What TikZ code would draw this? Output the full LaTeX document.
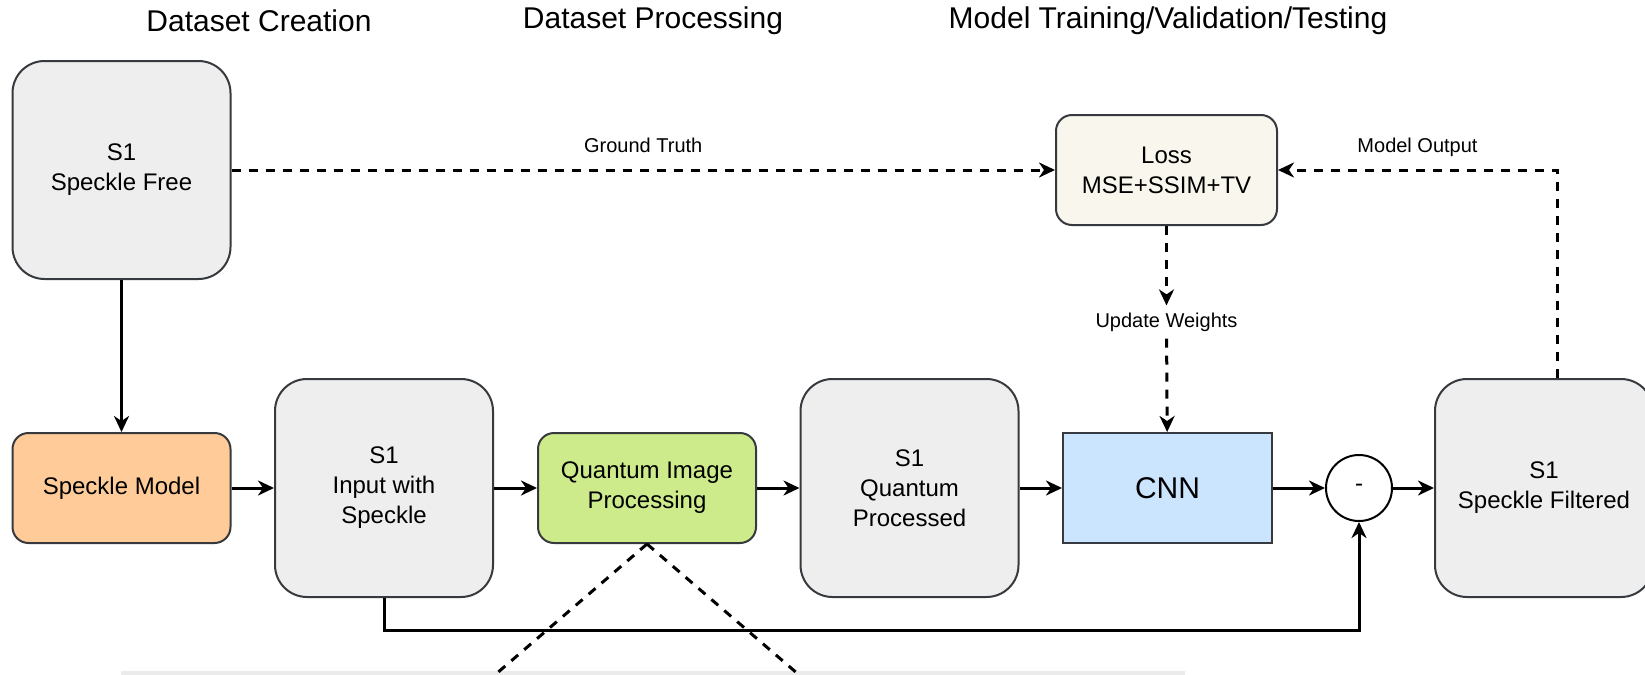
\documentclass[tikz,border=0pt]{standalone}
\usepackage{fontspec}
\setmainfont{Liberation Sans}
\usetikzlibrary{arrows.meta}
\definecolor{strk}{HTML}{36393D}
\definecolor{grayfill}{HTML}{EEEEEE}
\definecolor{orangefill}{HTML}{FFCC99}
\definecolor{greenfill}{HTML}{CDEB8B}
\definecolor{bluefill}{HTML}{CCE5FF}
\definecolor{lossfill}{HTML}{F9F7ED}
\definecolor{barfill}{HTML}{EBEBEB}
\tikzset{
    box/.style={draw=strk, line width=1pt, align=center, inner sep=0pt,
    	font=\fontsize{12}{15}\selectfont},
    tallbox/.style={box, fill=grayfill, minimum width=109pt, minimum height=109pt,
    	rounded corners=16pt},
    flatbox/.style={box, minimum width=109pt, minimum height=55pt, rounded corners=8pt}
}
\tikzset{
    arr/.style={line width=1.5pt, -{Stealth[length=8pt,width=7.5pt,inset=2.5pt]}},
    dsh/.style={line width=1.5pt, dash pattern=on 4.5pt off 4pt},
    lbl/.style={font=\fontsize{10}{12}\selectfont, text height=7.5pt, text depth=2pt},
    heading/.style={font=\fontsize{15}{18}\selectfont}
}

\begin{document}
\begin{tikzpicture}[x=0.5pt, y=-0.5pt]
  \useasboundingbox (0,0) rectangle (1645,675);
  \clip (0,0) rectangle (1645,675);
  \fill[barfill] (121,671) rectangle (1185,680);
  \node (h1) [heading] at (259,21) {Dataset Creation};
  \node (h2) [heading] at (653,21) {Dataset Processing};
  \node (h3) [heading] at (1168,21) {Model Training/Validation/Testing};
  \node (free) [tallbox] at (121.5,170) {S1\\Speckle Free};
  \node (model) [flatbox, fill=orangefill] at (121.5,488) {Speckle Model};
  \node (input) [tallbox] at (384,488) {S1\\Input with\\Speckle};
  \node (qip) [flatbox, fill=greenfill] at (647,488) {Quantum Image\\Processing};
  \node (qproc) [tallbox] at (909.5,488) {S1\\Quantum\\Processed};
  \node (cnn) [box, fill=bluefill, minimum width=104.5pt, minimum height=55pt,
  	font=\fontsize{15}{18}\selectfont] at (1167.5,488) {CNN};
  \node (minus) [circle, draw, line width=1pt, fill=white, minimum size=33pt,
  	inner sep=0pt, font=\fontsize{12}{15}\selectfont] at (1359,488) {-};
  \node (filt) [tallbox] at (1544,488) {S1\\Speckle Filtered};
  \node (loss) [flatbox, fill=lossfill, minimum width=110.5pt] at (1166.5,170) {Loss\\MSE+SSIM+TV};
  \node (upd) [lbl] at (1166.5,322) {Update Weights};
  \coordinate (ret) at (1359,630);
  \coordinate (cutl) at (489,680);
  \coordinate (cutr) at (805,680);
  \draw (free) edge[arr] (model);
  \draw (model) edge[arr] (input);
  \draw (input) edge[arr] (qip);
  \draw (qip) edge[arr] (qproc);
  \draw (qproc) edge[arr] (cnn);
  \draw (cnn) edge[arr] (minus);
  \draw (minus) edge[arr] (filt);
  \draw[arr] (input.south) |- (ret) -- (minus.south);
  \draw[arr, dsh] (free) -- node[lbl, above=2.6pt] {Ground Truth} (loss);
  \draw[arr, dsh] ([xshift=6.5pt]filt.north) |- node[lbl, above=2.6pt, pos=0.75] {Model Output} (loss.east);
  \draw[arr, dsh] (loss) -- (upd);
  \draw[arr, dsh] (upd) -- (cnn);
  \draw[dsh] (qip.south) -- (cutl);
  \draw[dsh] (qip.south) -- (cutr);
\end{tikzpicture}
\end{document}
